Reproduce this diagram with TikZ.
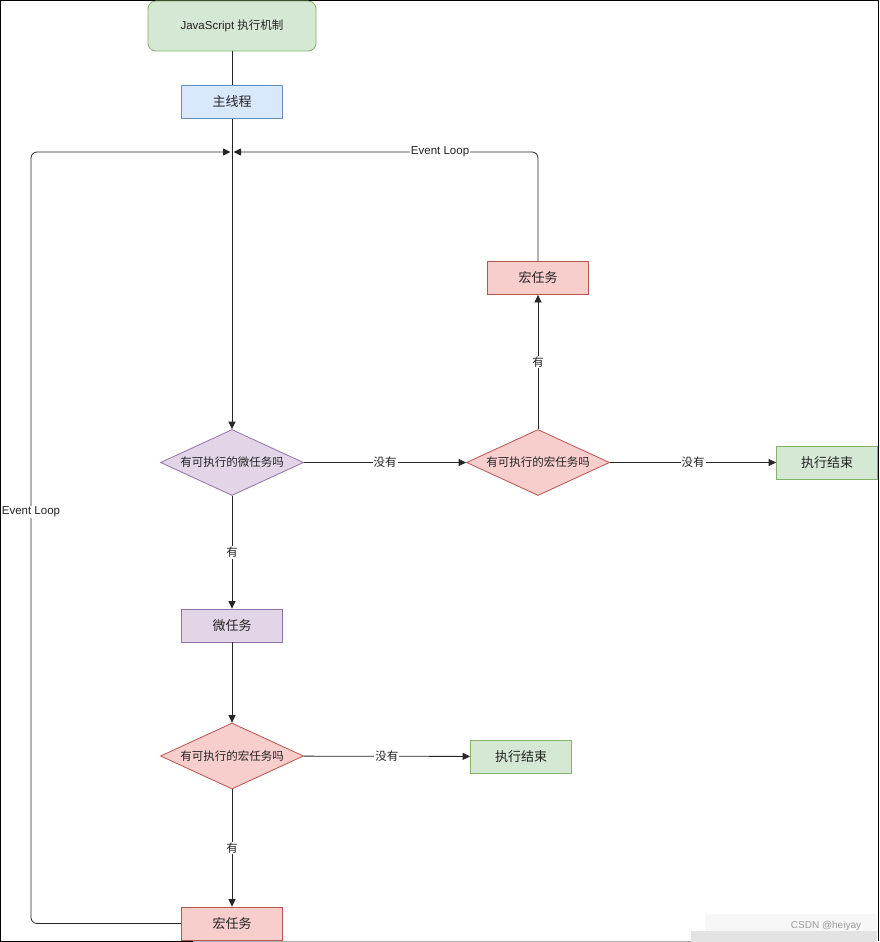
\documentclass[tikz,border=0pt]{standalone}
\usepackage{fontspec}
\setmainfont{Liberation Sans}
\newfontfamily\cjk{Noto Sans CJK SC}
\usetikzlibrary{shapes.geometric,arrows.meta}
\definecolor{gfill}{HTML}{D5E8D4}\definecolor{gline}{HTML}{82B366}
\definecolor{bfill}{HTML}{DAE8FC}\definecolor{bline}{HTML}{6C8EBF}
\definecolor{pfill}{HTML}{E1D5E7}\definecolor{pline}{HTML}{9673A6}
\definecolor{rfill}{HTML}{F8CECC}\definecolor{rline}{HTML}{B85450}
\definecolor{txt}{HTML}{222222}
\begin{document}
\begin{tikzpicture}[x=1pt,y=-1pt,
  box/.style={draw, rectangle, minimum width=101pt, minimum height=33pt, inner sep=0pt, line width=0.8pt, text=txt, font=\fontsize{13}{15}\selectfont\cjk},
  dia/.style={draw, diamond, minimum width=143pt, minimum height=66pt, aspect=2.2, inner sep=0pt, line width=0.8pt, text=txt, font=\fontsize{11.5}{13}\selectfont\cjk},
  green/.style={fill=gfill, draw=gline},
  blue/.style={fill=bfill, draw=bline},
  purple/.style={fill=pfill, draw=pline},
  red/.style={fill=rfill, draw=rline},
  conn/.style={line width=0.8pt, draw=black!85},
  arr/.style={conn, -{Triangle[length=7.5pt,width=7pt]}},
  lab/.style={fill=white, inner sep=1pt, text=txt, font=\fontsize{11.5}{13}\selectfont\cjk},
  elab/.style={fill=white, inner sep=1pt, text=txt, font=\fontsize{11.5}{13}\selectfont}]
\useasboundingbox (0,0) rectangle (880,942);
\fill[white] (0,0) rectangle (880,942);
% frame
\draw[black, line width=1pt] (193,941) -- (0.5,941) -- (0.5,0.5) -- (878,0.5) -- (878,941);
\draw[gray!60, line width=1pt] (193,941) -- (691,941);

% nodes
\node[draw, rectangle, rounded corners=8pt, green, minimum width=168pt, minimum height=50pt, line width=0.8pt, text=txt, font=\fontsize{11.5}{13}\selectfont] (start) at (232,26) {JavaScript {\cjk 执行机制}};
\node[box, blue] (main) at (232,102) {主线程};
\node[dia, purple] (d1) at (232,462.5) {有可执行的微任务吗};
\node[dia, red] (d2) at (538,462.5) {有可执行的宏任务吗};
\node[box, green] (end1) at (827,462.5) {执行结束};
\node[box, red] (macro1) at (538,278) {宏任务};
\node[box, purple] (micro) at (232,625.5) {微任务};
\node[dia, red] (d3) at (232,756) {有可执行的宏任务吗};
\node[box, green] (end2) at (521,756.5) {执行结束};
\node[box, red] (macro2) at (232,923.5) {宏任务};
\coordinate (j) at (232,152);
\coordinate (lc) at (31,152);

% connectors
\draw[conn] (start) -- (main);
\draw[arr] (main) -- (d1);
\draw[arr] (d1) -- node[lab] {没有} (d2);
\draw[arr] (d2) -- node[lab] {没有} (end1);
\draw[arr] (d2) -- node[lab] {有} (macro1);
\draw[arr, rounded corners=6pt, shorten >=1.5pt] (macro1.north) |- node[elab, pos=0.66] {Event Loop} (j);
\draw[arr] (d1) -- node[lab] {有} (micro);
\draw[arr] (micro) -- (d3);
\draw[arr] (d3) -- node[lab] {没有} (end2);
\draw[arr] (d3) -- node[lab] {有} (macro2);
\draw[arr, rounded corners=6pt, shorten >=1.5pt] (macro2.west) -| (lc) -- (j);
\node[elab] at (31,512) {Event Loop};

% watermark
\fill[gray!6] (705,914) rectangle (877,931);
\fill[gray!22] (691,931) rectangle (877,942);
\node[text=gray!80, font=\fontsize{10}{12}\selectfont, inner sep=0pt] at (826,926) {CSDN @heiyay};
\end{tikzpicture}
\end{document}
